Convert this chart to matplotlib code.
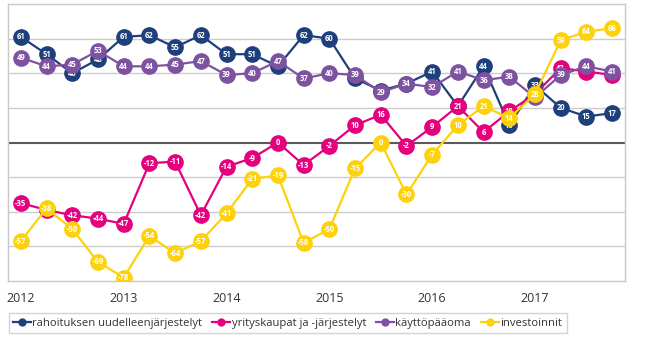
import matplotlib
matplotlib.use("Agg")
import matplotlib.pyplot as plt

plt.rcParams['font.family'] = ['Open Sans', 'DejaVu Sans']

years = ["2012", "2013", "2014", "2015", "2016", "2017"]

# neljännesvuosittain 2012 Q1 - 2017 Q4
rahoitus = [61, 51, 40, 48, 61, 62, 55, 62, 51, 51, 44, 62,
            60, 37, 30, 34, 41, 21, 44, 10, 33, 20, 15, 17]
yrityskaupat = [-35, -39, -42, -44, -47, -12, -11, -42, -14, -9, 0, -13,
                -2, 10, 16, -2, 9, 21, 6, 18, 28, 43, 41, 39]
kayttopaaoma = [49, 44, 45, 53, 44, 44, 45, 47, 39, 40, 47, 37,
                40, 39, 29, 34, 32, 41, 36, 38, 26, 39, 44, 41]
investoinnit = [-57, -38, -50, -69, -78, -54, -64, -57, -41, -21, -19, -58,
                -50, -15, 0, -30, -7, 10, 21, 14, 28, 59, 64, 66]

series = [
    ("rahoituksen uudelleenjärjestelyt", rahoitus, "#1d3f7c"),
    ("yrityskaupat ja -järjestelyt", yrityskaupat, "#e5007d"),
    ("käyttöpääoma", kayttopaaoma, "#7d52a0"),
    ("investoinnit", investoinnit, "#fdd20a"),
]

fig = plt.figure(figsize=(6.53, 3.40), dpi=100)
ax = fig.add_axes([8 / 653, 59 / 340, 617 / 653, 277 / 340])

x = list(range(len(rahoitus)))
for i, (name, vals, col) in enumerate(series):
    z = 3 + i
    ax.plot(x, vals, color=col, lw=1.6, marker="o", ms=11, mec=col, mfc=col,
            label=name, zorder=z)
    for xi, v in zip(x, vals):
        ax.text(xi, v, str(v), color="white", fontsize=5.5, fontweight="bold",
                ha="center", va="center", zorder=z + 0.5)

ax.set_xlim(-0.5, 23.5)
ax.set_ylim(-80, 80)
ax.set_yticks([-60, -40, -20, 20, 40, 60])
ax.yaxis.grid(True, color="#cccccc", lw=1)
ax.axhline(0, color="#5a5a5a", lw=1.5, zorder=2)
ax.tick_params(axis="y", left=False, labelleft=False)
ax.set_xticks(range(0, 24, 4))
ax.set_xticklabels(years, fontsize=9, color="#333333")
ax.tick_params(axis="x", length=0, pad=8)
for s in ax.spines.values():
    s.set_color("#c8c8c8")
    s.set_linewidth(1)

leg = fig.legend(loc="lower left", bbox_to_anchor=(3 / 653, 1 / 340), ncol=4,
                 fontsize=8.1, frameon=True, fancybox=False, edgecolor="#c8c8c8",
                 handlelength=1.6, handletextpad=0.1, columnspacing=0.9,
                 borderpad=0.4, markerscale=0.45)
leg.get_frame().set_linewidth(1)
for t in leg.get_texts():
    t.set_color("#333333")

fig.savefig("out.png", dpi=100)
